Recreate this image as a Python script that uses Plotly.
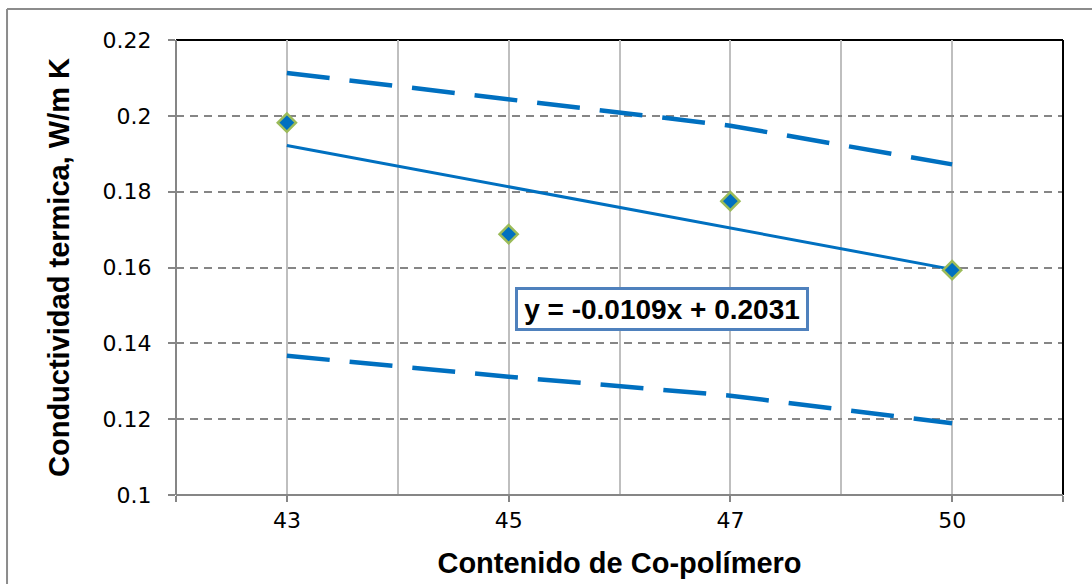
import plotly.graph_objects as go

# Contenido de co-polímero (eje de categorías) y conductividad medida
categorias = ["43", "45", "47", "50"]
conductividad = [0.1982, 0.1688, 0.1775, 0.1593]

# Bandas superior e inferior
limite_superior = [0.2113, 0.2044, 0.1974, 0.1872]
limite_inferior = [0.1367, 0.1312, 0.1262, 0.1189]

# Recta de regresión (x = 1..n sobre el eje de categorías)
pendiente = -0.0109
intercepto = 0.2031

# Eje Y
y_ticks = [0.10, 0.12, 0.14, 0.16, 0.18, 0.20, 0.22]
y_ticktext = ["0.1", "0.12", "0.14", "0.16", "0.18", "0.2", "0.22"]

AZUL = "#0070C0"
VERDE = "#9BBB59"
GRIS = "#868686"
GRIS_CLARO = "#BFBFBF"

idx = list(range(len(categorias)))
x_tend = [idx[0], idx[-1]]
y_tend = [pendiente * (i + 1) + intercepto for i in x_tend]

fig = go.Figure()

dash_banda = "43px,20px"
fig.add_trace(go.Scatter(x=idx, y=limite_superior, mode="lines",
                         line=dict(color=AZUL, width=4.5, dash=dash_banda),
                         showlegend=False, hoverinfo="skip"))
fig.add_trace(go.Scatter(x=idx, y=limite_inferior, mode="lines",
                         line=dict(color=AZUL, width=4.5, dash=dash_banda),
                         showlegend=False, hoverinfo="skip"))
fig.add_trace(go.Scatter(x=x_tend, y=y_tend, mode="lines",
                         line=dict(color=AZUL, width=3),
                         showlegend=False, hoverinfo="skip"))
fig.add_trace(go.Scatter(x=idx, y=conductividad, mode="markers",
                         marker=dict(symbol="diamond", size=14, color=AZUL,
                                     line=dict(color=VERDE, width=2.5)),
                         showlegend=False))

ecuacion = f"y = {pendiente:.4f}x + {intercepto:.4f}"
fig.add_annotation(text=f"<b>{ecuacion}</b>", xref="paper", yref="paper",
                   x=0.5479, y=0.4088, xanchor="center", yanchor="middle",
                   showarrow=False, width=284, height=34, align="center",
                   font=dict(family="Liberation Sans, Arial", size=28, color="black"),
                   bgcolor="white", bordercolor="#4F81BD", borderwidth=3, borderpad=2)

# Bordes del área de trazado
fig.add_shape(type="line", xref="paper", yref="paper", x0=0, x1=1, y0=1, y1=1,
              line=dict(color="black", width=2), layer="below")
fig.add_shape(type="line", xref="paper", yref="paper", x0=1, x1=1, y0=0, y1=1,
              line=dict(color="black", width=2), layer="above")
fig.add_shape(type="line", xref="paper", yref="paper", x0=0, x1=0, y0=0, y1=1,
              line=dict(color=GRIS, width=2), layer="above")
fig.add_shape(type="line", xref="paper", yref="paper", x0=0, x1=1, y0=0, y1=0,
              line=dict(color=GRIS, width=2), layer="above")

# Marco exterior del gráfico
fig.add_shape(type="line", xref="paper", yref="paper", x0=-0.1905, x1=-0.1905,
              y0=-0.25, y1=1.068, line=dict(color="#8C8C8C", width=2))
fig.add_shape(type="line", xref="paper", yref="paper", x0=-0.1905, x1=1.05,
              y0=1.068, y1=1.068, line=dict(color="#8C8C8C", width=2))

fig.update_xaxes(
    range=[-0.5, len(categorias) - 0.5],
    tickmode="array",
    tickvals=[-0.5] + idx + [len(categorias) - 0.5],
    ticktext=[""] + categorias + [""],
    ticks="outside", ticklen=6, tickwidth=1.5, tickcolor=GRIS,
    showgrid=True, gridcolor=GRIS_CLARO, gridwidth=1.5,
    minor=dict(tickvals=[i + 0.5 for i in idx[:-1]], showgrid=True,
               gridcolor=GRIS_CLARO, gridwidth=1.5, ticks=""),
    showline=False, zeroline=False,
    tickfont=dict(family="DejaVu Sans", size=22, color="black"),
    title=dict(text="<b>Contenido de Co-polímero</b>", standoff=20,
               font=dict(family="Liberation Sans, Arial", size=29, color="black")),
)
fig.update_yaxes(
    range=[y_ticks[0], y_ticks[-1]],
    tickmode="array", tickvals=y_ticks, ticktext=y_ticktext,
    ticks="outside", ticklen=7, tickwidth=1.5, tickcolor=GRIS,
    showgrid=True, gridcolor=GRIS, gridwidth=1.5, griddash="8px,6px",
    showline=False, zeroline=False,
    ticklabelstandoff=12,
    tickfont=dict(family="DejaVu Sans", size=22, color="black"),
    title=dict(text="<b>Conductividad termica, W/m K</b>", standoff=24,
               font=dict(family="Liberation Sans, Arial", size=29, color="black")),
)

fig.update_layout(
    width=1092, height=584,
    margin=dict(l=176, r=29, t=40, b=89, autoexpand=False),
    paper_bgcolor="white", plot_bgcolor="white",
    showlegend=False,
)

fig.write_html("out.html", config={"displayModeBar": False})
